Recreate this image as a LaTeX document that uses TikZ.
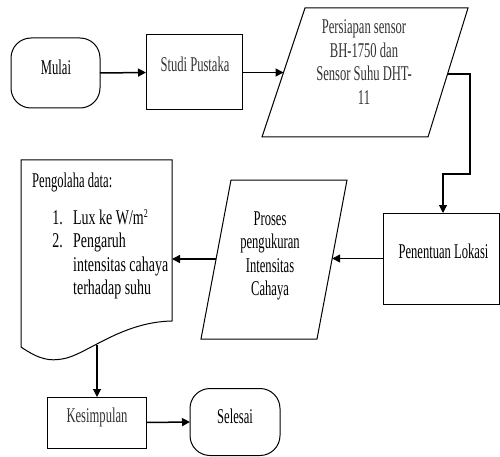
\documentclass[tikz,border=0pt]{standalone}
\usepackage{fontspec}
\setmainfont{Liberation Serif}[FakeStretch=0.6]
\newfontfamily\listfont{Liberation Serif}[FakeStretch=0.665]
\usetikzlibrary{arrows.meta}
\newcommand{\supsm}[1]{\raisebox{7pt}{\fontsize{12}{12}\selectfont #1}}
\begin{document}
\begin{tikzpicture}[x=1pt,y=-1pt,
  box/.style={draw, line width=1pt, inner sep=0pt, outer sep=0pt},
  termbox/.style={box, rounded corners=20pt},
  shp/.style={draw, line width=1pt},
  conn/.style={line width=1.5pt, -{Triangle[length=8pt,width=8pt]}},
  thinconn/.style={line width=1.1pt, -{Triangle[length=8pt,width=8pt]}},
  txt/.style={font=\fontsize{21}{23.5}\selectfont, inner sep=0pt, anchor=base},
  ltxt/.style={font=\listfont\fontsize{21}{23.5}\selectfont, inner sep=0pt},
  gtxt/.style={txt, text=black!80},
]
\useasboundingbox (0,0) rectangle (500,457);

% Mulai
\node[termbox, minimum width=89pt, minimum height=70pt] (mulai) at (55.5,73) {};
\node[txt] (mulaiT) at (56,74.5) {Mulai};

% Studi Pustaka
\node[box, minimum width=96pt, minimum height=75pt] (studi) at (194,72.5) {};
\node[gtxt] (studiT) at (195,72) {Studi Pustaka};

% Persiapan (parallelogram)
\draw[shp] (305,8) -- (468,8) -- (428,137) -- (262,137) -- cycle;
\coordinate (prepIn) at (283.5,72.5);
\coordinate (prepOut) at (447.5,74);
\node[gtxt] (prep1) at (364,34) {Persiapan sensor};
\node[gtxt] (prep2) at (364,57.5) {BH-1750 dan};
\node[gtxt] (prep3) at (364,81) {Sensor Suhu DHT-};
\node[gtxt] (prep4) at (364,104.5) {11};

% Penentuan Lokasi
\node[box, minimum width=116.5pt, minimum height=91pt] (pen) at (441.25,258.5) {};
\node[txt] (penT) at (443.5,258) {Penentuan Lokasi};
\coordinate (penIn) at (443,213);

% Proses (parallelogram)
\draw[shp] (231,180) -- (347,180) -- (317,339) -- (201,339) -- cycle;
\coordinate (procIn) at (332.2,258.5);
\coordinate (procOut) at (216.1,259);
\node[txt] (proc1) at (270,225) {Proses};
\node[txt] (proc2) at (270,248.5) {pengukuran};
\node[txt] (proc3) at (270,272) {Intensitas};
\node[txt] (proc4) at (270,295.5) {Cahaya};

% Pengolahan data (document)
\draw[shp] (21,160) -- (172,160) -- (172,321)
  .. controls (120,322) and (85,356) .. (62,359)
  .. controls (50,361) and (40,360) .. (21,347) -- cycle;
\coordinate (docIn) at (172,259);
\coordinate (docOut) at (97,345);
\node[txt, anchor=base west] (docT) at (32,187) {Pengolaha data:};
\node[ltxt, anchor=base east] (n1) at (63,224) {1.};
\node[ltxt, anchor=base west] (l1) at (73,224) {Lux ke W/m\supsm{2}};
\node[ltxt, anchor=base east] (n2) at (63,247.5) {2.};
\node[ltxt, anchor=base west] (l2) at (73,247.5) {Pengaruh};
\node[ltxt, anchor=base west] (l3) at (73,271) {intensitas cahaya};
\node[ltxt, anchor=base west] (l4) at (73,294.5) {terhadap suhu};

% Kesimpulan
\node[box, minimum width=99pt, minimum height=51pt] (kes) at (96.5,422.5) {};
\node[gtxt] (kesT) at (97,422) {Kesimpulan};
\coordinate (kesIn) at (97,397);

% Selesai
\node[termbox, minimum width=90pt, minimum height=67pt] (sel) at (235,422) {};
\node[txt] (selT) at (235,423) {Selesai};

% Connectors
\draw[conn] (mulai.east) -- (studi.west);
\draw[conn] (studi.east) -- (prepIn);
\draw[thinconn] (prepOut) -| (470,174) -| (penIn);
\draw[conn] (pen.west) -- (procIn);
\draw[conn] (procOut) -- (docIn);
\draw[thinconn] (docOut) -- (kesIn);
\draw[conn] (kes.east) -- (sel.west);
\end{tikzpicture}
\end{document}
